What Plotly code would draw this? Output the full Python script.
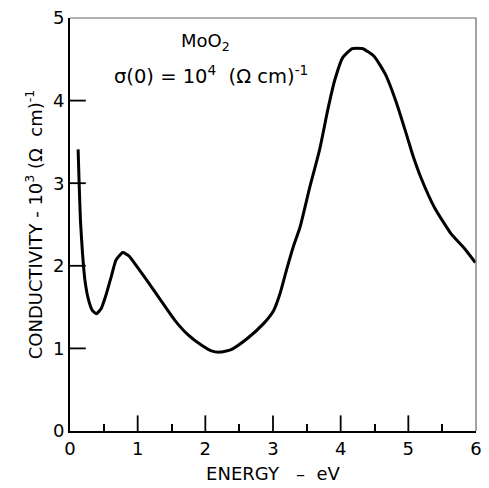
import plotly.graph_objects as go

energy = [0.12, 0.135, 0.155, 0.185, 0.22, 0.27, 0.33, 0.39, 0.46, 0.53, 0.61, 0.68, 0.78, 0.87,
          0.99, 1.165, 1.36, 1.55, 1.75, 1.94, 2.09, 2.21, 2.38, 2.62, 2.86, 3.01, 3.11, 3.20,
          3.30, 3.40, 3.54, 3.69, 3.81, 3.91, 4.03, 4.17, 4.32, 4.49, 4.66, 4.83, 4.98, 5.07,
          5.19, 5.39, 5.63, 5.83, 5.99]
conductivity = [3.41, 3.00, 2.54, 2.15, 1.83, 1.60, 1.46, 1.42, 1.48, 1.64, 1.87, 2.07, 2.16, 2.12,
                1.99, 1.79, 1.56, 1.34, 1.16, 1.04, 0.97, 0.955, 0.985, 1.12, 1.30, 1.46, 1.68, 1.95,
                2.23, 2.47, 2.94, 3.41, 3.89, 4.24, 4.52, 4.63, 4.63, 4.54, 4.32, 3.96, 3.57, 3.33,
                3.06, 2.70, 2.39, 2.21, 2.04]

x_major = [0, 1, 2, 3, 4, 5, 6]
y_major = [0, 1, 2, 3, 4, 5]

FONT = "DejaVu Sans"
NB = "\u00a0"
X_RANGE = [0, 6]
Y_RANGE = [0, 5]
PLOT_W, PLOT_H = 412, 423          # plot area in pixels (width - margins)
TICK_PX = 16
x_tick_h = TICK_PX * (Y_RANGE[1] - Y_RANGE[0]) / PLOT_H
y_tick_w = TICK_PX * (X_RANGE[1] - X_RANGE[0]) / PLOT_W

# major tick segments built from the tick lists
tx, ty = [], []
for v in x_major[1:-1]:
    tx += [v, v, None]
    ty += [Y_RANGE[0], Y_RANGE[0] + x_tick_h, None]
for v in y_major[1:-1]:
    tx += [X_RANGE[0], X_RANGE[0] + y_tick_w, None]
    ty += [v, v, None]

fig = go.Figure()
fig.add_trace(go.Scatter(x=energy, y=conductivity, mode="lines",
                         line=dict(color="black", width=3, shape="spline", smoothing=0.5),
                         hoverinfo="skip", showlegend=False))
fig.add_trace(go.Scatter(x=tx, y=ty, mode="lines", line=dict(color="black", width=1.8),
                         hoverinfo="skip", showlegend=False, connectgaps=False))

# thin grey frame on top and right
fig.add_shape(type="path", xref="paper", yref="paper", path="M 0 1 L 1 1 L 1 0",
              line=dict(color="#666666", width=1.2))

fig.update_layout(
    width=489, height=488,
    margin=dict(l=70, r=7, t=15, b=50),
    paper_bgcolor="white", plot_bgcolor="white",
    font=dict(family=FONT, color="black", size=18),
    annotations=[
        dict(x=0.333, y=0.941, xref="paper", yref="paper", text="MoO<sub>2</sub>",
             xanchor="center", yanchor="middle",
             showarrow=False, font=dict(size=18, family=FONT)),
        dict(x=0.347, y=0.862, xref="paper", yref="paper",
             text="σ(0) = 10<sup>4</sup>" + NB * 2 + "(Ω cm)<sup>-1</sup>",
             xanchor="center", yanchor="middle",
             showarrow=False, font=dict(size=19.5, family=FONT)),
    ],
)
fig.update_xaxes(range=X_RANGE, tickmode="array", tickvals=x_major, ticks="",
                 showline=True, linecolor="black", linewidth=2,
                 showgrid=False, zeroline=False,
                 minor=dict(ticks="inside", tickmode="linear", ticklen=7, tick0=0.5, dtick=1,
                            tickwidth=1.5, tickcolor="black", showgrid=False),
                 title=dict(text="ENERGY" + NB * 3 + "–" + NB * 2 + "eV", font=dict(size=18),
                            standoff=10),
                 tickfont=dict(size=18))
fig.update_yaxes(range=Y_RANGE, tickmode="array", tickvals=y_major, ticks="",
                 showline=True, linecolor="black", linewidth=2,
                 showgrid=False, zeroline=False,
                 title=dict(text="CONDUCTIVITY - 10<sup>3</sup> (Ω" + NB * 2 + "cm)<sup>-1</sup>",
                            font=dict(size=18), standoff=6),
                 tickfont=dict(size=18))

fig.write_html("out.html")
